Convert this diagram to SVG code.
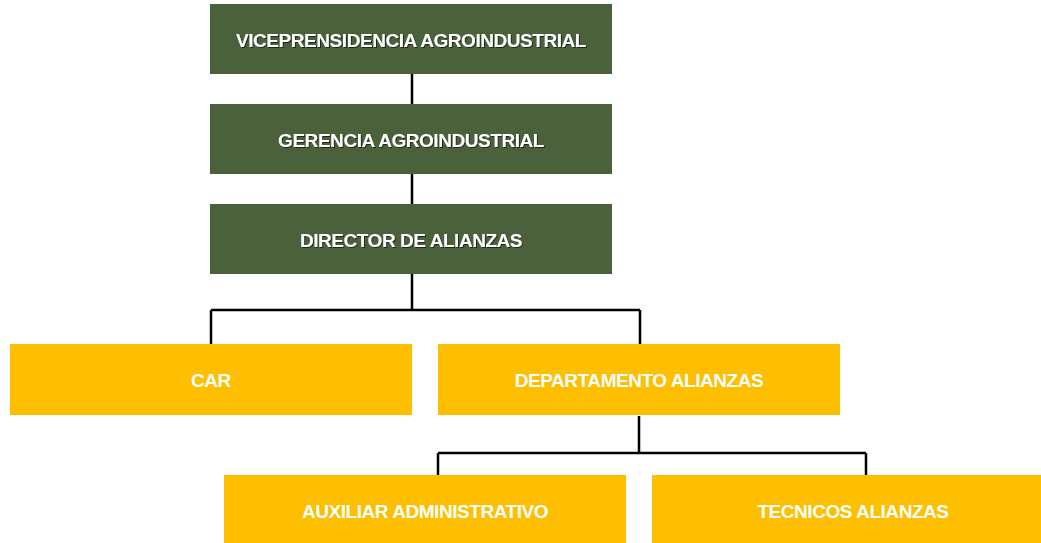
<svg xmlns="http://www.w3.org/2000/svg" width="1041" height="543" viewBox="0 0 1041 543">
<style>
.g{fill:#4a613b}
.y{fill:#fdbf00}
.t{font-family:"Liberation Sans",Arial,sans-serif;font-weight:bold;font-size:19px;fill:#fff;text-anchor:middle;letter-spacing:-0.45px}
.c{fill:none;stroke:#000;stroke-width:2.5}
</style>
<defs>
<filter id="sh" x="-5%" y="-20%" width="110%" height="140%">
<feDropShadow dx="1" dy="1" stdDeviation="0.6" flood-color="#000" flood-opacity="0.6"/>
</filter>
</defs>
<g id="connectors">
<path class="c" d="M412 74V104M412 174V204M412 274V310M211 310H640M211 310V344M640 310V344"/>
<path class="c" d="M639 416V453M438 453H866M438 453V475M866 453V475"/>
</g>
<g id="n1"><rect class="g" x="210" y="4" width="402" height="70"/><text class="t" x="411" y="47" filter="url(#sh)">VICEPRENSIDENCIA AGROINDUSTRIAL</text></g>
<g id="n2"><rect class="g" x="210" y="104" width="402" height="70"/><text class="t" x="411" y="147" filter="url(#sh)">GERENCIA AGROINDUSTRIAL</text></g>
<g id="n3"><rect class="g" x="210" y="204" width="402" height="70"/><text class="t" x="411" y="247" filter="url(#sh)">DIRECTOR DE ALIANZAS</text></g>
<g id="n4"><rect class="y" x="10" y="344" width="402" height="71"/><text class="t" x="211" y="387">CAR</text></g>
<g id="n5"><rect class="y" x="438" y="344" width="402" height="71"/><text class="t" x="639" y="387">DEPARTAMENTO ALIANZAS</text></g>
<g id="n6"><rect class="y" x="224" y="475" width="402" height="68"/><text class="t" x="425" y="518">AUXILIAR ADMINISTRATIVO</text></g>
<g id="n7"><rect class="y" x="652" y="475" width="389" height="68"/><text class="t" x="853" y="518">TECNICOS ALIANZAS</text></g>
</svg>
